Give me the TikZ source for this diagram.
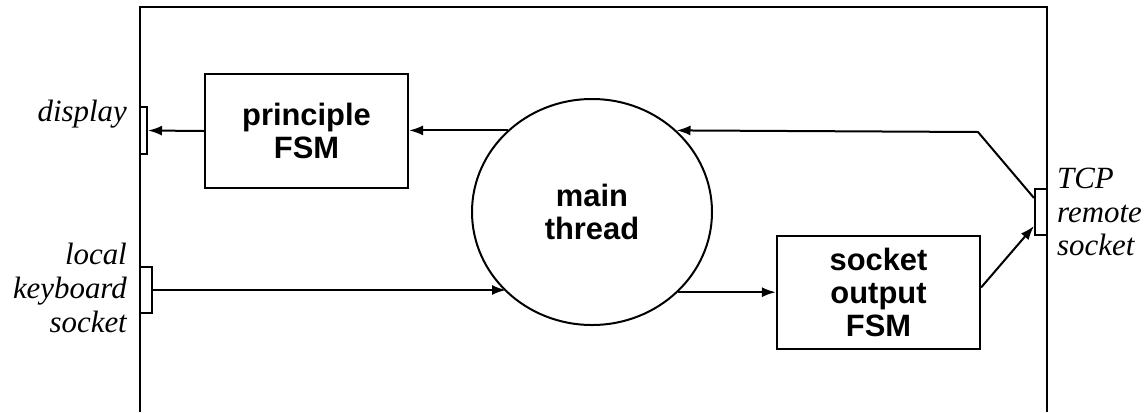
\documentclass[tikz,border=0pt]{standalone}
\usepackage{fontspec}
\setmainfont{Liberation Serif}
\newfontfamily\boxfont{Liberation Sans}
\usetikzlibrary{shapes.geometric,arrows.meta,calc}
\tikzset{
  frame/.style={line width=2.4bp},
  boxtext/.style={font=\boxfont\bfseries\fontsize{31}{33}\selectfont},
  fsm/.style={draw,line width=2.2bp,rectangle,inner sep=0pt,align=center,boxtext},
  sock/.style={draw,line width=2bp,rectangle,inner sep=0pt,fill=white},
  lbl/.style={font=\itshape\fontsize{31}{34}\selectfont,inner sep=0pt},
  arr/.style={line width=2bp,-{Latex[length=14bp,width=10bp]}},
}
\begin{document}
\begin{tikzpicture}[x=1bp,y=-1bp]
\useasboundingbox (0,0) rectangle (1148,412);
% outer frame
\draw[frame] (140,412) -- (140,7) -- (1047,7) -- (1047,412);
% nodes
\node[fsm,minimum width=203bp,minimum height=114bp] (pfsm) at (306.5,131) {principle\\FSM};
\node[draw,line width=2bp,ellipse,minimum width=240bp,minimum height=226bp,inner sep=0pt,
  align=center,boxtext] (mt) at (592,212) {main\\thread};
\node[fsm,minimum width=203bp,minimum height=113bp] (sofsm) at (878.5,292.5) {socket\\output\\FSM};
\node[sock,minimum width=7bp,minimum height=47bp] (dsock) at (143.5,130.5) {};
\node[sock,minimum width=12bp,minimum height=46bp] (ksock) at (146,290) {};
\node[sock,minimum width=12bp,minimum height=46bp] (tsock) at (1041,212) {};
% labels
\node[lbl,anchor=east] (ldisp) at (127,114) {display};
\node[lbl,anchor=east,align=right] (lkey) at (127,288) {local\\keyboard\\socket};
\node[lbl,anchor=west,align=left] (ltcp) at (1057,212) {TCP\\remote\\socket};
% connectors
\draw[arr] (pfsm.west) -- (dsock.east);
\draw[arr] (mt.136) -- (mt.136 -| pfsm.east);
\coordinate (bend) at (978,132);
\draw[arr] ($(tsock.north west)+(0,10)$) -- (bend) -- (mt.44);
\draw[arr] (ksock.east) -- (ksock.east -| mt.223);
\draw[arr] (mt.-43) -- (mt.-43 -| sofsm.west);
\draw[arr] ($(sofsm.east)+(0,-5)$) -- ($(tsock.south west)+(0,-10)$);
\end{tikzpicture}
\end{document}
